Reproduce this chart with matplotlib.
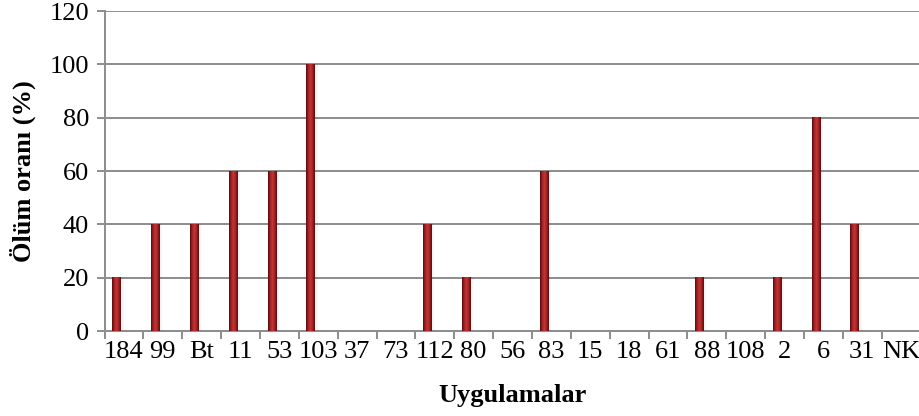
import numpy as np
import matplotlib.pyplot as plt
from matplotlib.colors import LinearSegmentedColormap

plt.rcParams['font.family'] = ['Liberation Serif', 'DejaVu Serif']

# data
categories = ['184', '99', 'Bt', '11', '53', '103', '37', '73', '112', '80', '56',
              '83', '15', '18', '61', '88', '108', '2', '6', '31', 'NK']
mortality = [20, 40, 40, 60, 60, 100, 0, 0, 40, 20, 0,
             60, 0, 0, 0, 20, 0, 20, 80, 40, 0]

fig = plt.figure(figsize=(9.19, 4.16), dpi=100)
ax = fig.add_axes([104.5 / 919, 85 / 416, 816 / 919, 320 / 416])

x = np.arange(len(categories))
grid_c = '#8c8c8c'

# bars sit left of the category centre (excel clustered layout)
bars = ax.bar(x - 0.2, mortality, width=0.21, color='#9b2226', zorder=3)

# cylinder-like shading on each bar
cyl = LinearSegmentedColormap.from_list('cyl', ['#5a0a0d', '#9e2226', '#c73532', '#9e2226', '#5a0a0d'])
grad = np.linspace(0, 1, 64).reshape(1, -1)
for b in bars:
    h = b.get_height()
    if h <= 0:
        continue
    x0 = b.get_x()
    w = b.get_width()
    # faint shadow on the right
    ax.bar(x0 + w * 0.5, h, width=w * 0.9, align='edge', color='#000000', alpha=0.04, zorder=2, linewidth=0)
    ax.imshow(grad, extent=[x0, x0 + w, 0, h], aspect='auto', cmap=cyl, zorder=4)
    b.set_visible(False)

ax.set_xlim(-0.5, len(categories) - 0.5)
ax.set_ylim(0, 120)
ax.set_yticks(range(0, 121, 20))
ax.yaxis.grid(True, color=grid_c, linewidth=1.4, zorder=0)
ax.set_axisbelow(True)

ax.set_xticks(x)
ax.set_xticklabels(categories)
ax.set_xticks(np.arange(-0.5, len(categories), 1), minor=True)
ax.tick_params(axis='x', which='major', length=0, labelsize=19, pad=7)
ax.tick_params(axis='x', which='minor', length=6, width=1.4, color=grid_c, direction='out')
ax.tick_params(axis='y', length=6, width=1.4, color=grid_c, labelsize=19, pad=5)

for s in ['top', 'right']:
    ax.spines[s].set_visible(False)
for s in ['left', 'bottom']:
    ax.spines[s].set_color(grid_c)
    ax.spines[s].set_linewidth(1.4)

ax.set_ylabel('Ölüm oranı (%)', fontsize=19, fontweight='bold', labelpad=10)
ax.set_xlabel('Uygulamalar', fontsize=19, fontweight='bold', labelpad=15)

plt.savefig('out.png', dpi=100)
